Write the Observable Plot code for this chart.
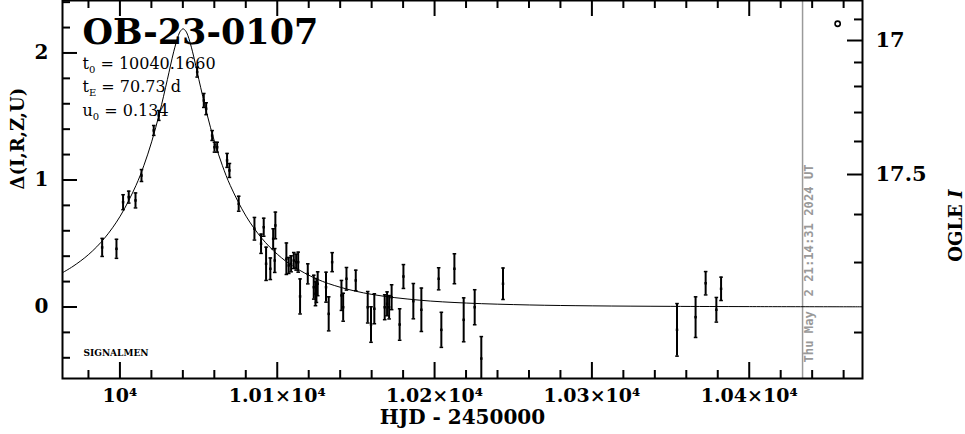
<!DOCTYPE html>
<html>
<head>
<meta charset="utf-8">
<script src="https://cdn.jsdelivr.net/npm/d3@7"></script>
<script src="https://cdn.jsdelivr.net/npm/@observablehq/plot@0.6"></script>
<style>
  body { margin: 0; background: #fff; }
  svg { display: block; }
</style>
</head>
<body>
<div id="chart"></div>
<script>
const obsT = [9988.7, 9997.8, 10002.0, 10005.6, 10009.9, 10013.7, 10021.5, 10024.7, 10049.1, 10053.3,
  10054.8, 10058.6, 10060.1, 10061.8, 10068.1, 10069.6, 10075.5, 10085.5, 10091.4, 10089.7,
  10092.9, 10095.6, 10097.4, 10098.8, 10098.4, 10105.8, 10107.3, 10108.8, 10110.5, 10112.0,
  10113.3, 10114.5, 10119.4, 10123.2, 10124.3, 10124.9, 10125.7, 10131.0, 10132.7, 10134.9,
  10140.8, 10141.9, 10144.0, 10149.9, 10157.5, 10159.6, 10161.7, 10168.3, 10169.8, 10171.1,
  10172.7, 10177.8, 10180.2, 10186.5, 10191.6, 10202.6, 10204.3, 10212.6, 10218.5, 10225.5,
  10229.7, 10243.5, 10354.1, 10365.9, 10372.3, 10379.1, 10382.1];
const obsDelta = [0.469, 0.458, 0.825, 0.865, 0.839, 1.035, 1.390, 1.508, 1.849, 1.626,
  1.561, 1.350, 1.258, 1.258, 1.154, 1.075, 0.813, 0.616, 0.628, 0.498,
  0.340, 0.301, 0.537, 0.642, 0.366, 0.380, 0.327, 0.340, 0.366, 0.353,
  0.353, 0.083, 0.261, 0.156, 0.104, 0.130, 0.183, 0.156, -0.054, 0.353,
  0.091, -0.002, 0.222, 0.209, -0.002, -0.138, -0.014, -0.002, 0.025, -0.002,
  0.077, -0.138, 0.240, 0.046, -0.022, 0.222, -0.180, 0.301, -0.101, -0.002,
  -0.406, 0.183, -0.180, -0.080, 0.187, -0.022, 0.143];
const obsErr = [0.071, 0.075, 0.059, 0.047, 0.059, 0.047, 0.039, 0.039, 0.039, 0.055,
  0.047, 0.039, 0.039, 0.039, 0.055, 0.055, 0.059, 0.089, 0.071, 0.076,
  0.131, 0.085, 0.079, 0.105, 0.094, 0.124, 0.063, 0.063, 0.063, 0.063,
  0.079, 0.138, 0.079, 0.094, 0.094, 0.094, 0.094, 0.118, 0.134, 0.075,
  0.118, 0.110, 0.089, 0.081, 0.124, 0.140, 0.118, 0.098, 0.094, 0.092,
  0.098, 0.124, 0.094, 0.139, 0.171, 0.087, 0.138, 0.118, 0.173, 0.138,
  0.173, 0.124, 0.207, 0.160, 0.092, 0.097, 0.092];

// ---- Model curve samples (read along the drawn fit) ----
const modelT = [9963.5, 9970.17, 9980.17, 9990.17, 10000.17, 10010.17, 10015.17, 10020.17, 10025.17, 10030.17,
  10034.17, 10037.17, 10038.5, 10040.17, 10041.8, 10043.17, 10046.17, 10050.17, 10055.17, 10060.17,
  10065.17, 10070.17, 10080.17, 10090.17, 10100.17, 10110.17, 10125.17, 10140.17, 10160.17, 10190.17,
  10220.17, 10260.17, 10300.17, 10350.17, 10400.17, 10472];
const modelDelta = [0.270, 0.320, 0.414, 0.541, 0.715, 0.956, 1.112, 1.300, 1.527, 1.791,
  2.009, 2.138, 2.173, 2.190, 2.173, 2.138, 2.009, 1.791, 1.527, 1.300,
  1.112, 0.956, 0.715, 0.541, 0.414, 0.320, 0.220, 0.155, 0.099, 0.054,
  0.031, 0.016, 0.009, 0.005, 0.003, 0.0015];

// ---- Axis ticks & labels ----
const xMajorTicks = [10000, 10100, 10200, 10300, 10400];
const xTickLabels = ["10⁴", "1.01×10⁴", "1.02×10⁴", "1.03×10⁴", "1.04×10⁴"];
const xMinorTicks = d3.range(9980, 10461, 20).filter(v => v % 100 !== 0);
const yMajorTicks = [0, 1, 2];
const yMinorTicks = d3.range(-2, 13).map(i => i / 5).filter(v => !Number.isInteger(v));
const ogleMajorPos = [2.098, 1.043];
const ogleMajorLabels = ["17", "17.5"];
const ogleMinorPos = [2.264, 1.925, 1.736, 1.531, 1.303, 0.728, 0.350, -0.201];

// ---- Texts ----
const titleText = "OB-23-0107";
const params = [
  {sym: "t", sub: "0", val: "10040.1660"},
  {sym: "t", sub: "E", val: "70.73 d"},
  {sym: "u", sub: "0", val: "0.134"}
];
const xLabel = "HJD - 2450000";
const yLabel = "Δ(I,R,Z,U)";
const y2Label = "OGLE I";
const creditText = "SIGNALMEN";
const nowT = 10433.9;
const nowLabel = "Thu May  2 21:14:31 2024 UT";
const markerPt = [{t: 10456.2, d: 2.23}];

const obs = obsT.map((t, i) => ({t, d: obsDelta[i], e: obsErr[i]}));
const model = modelT.map((t, i) => ({t, d: modelDelta[i]}));
const paramText = p => p.sym + p.sub + " = " + p.val;

const capSymbol = {
  draw(ctx, size) {
    const r = Math.sqrt(size / Math.PI);
    ctx.moveTo(-r, 0); ctx.lineTo(r, 0);
  }
};

const FW = 800, FH = 378; // frame size in px
const serif = "DejaVu Serif";

const svg = Plot.plot({
  width: 965, height: 434,
  marginLeft: 62, marginRight: 103, marginTop: 0, marginBottom: 56,
  x: {domain: [9963.5, 10472], axis: null},
  y: {domain: [-0.563, 2.413], axis: null},
  style: {background: "white", fontFamily: serif, overflow: "visible", color: "black"},
  marks: [
    // ticks (inward)
    Plot.tickX(xMajorTicks, {x: d => d, insetTop: FH - 16, stroke: "black", strokeWidth: 2}),
    Plot.tickX(xMinorTicks, {x: d => d, insetTop: FH - 8, stroke: "black", strokeWidth: 2}),
    Plot.tickX(xMajorTicks, {x: d => d, insetBottom: FH - 16, stroke: "black", strokeWidth: 2}),
    Plot.tickX(xMinorTicks, {x: d => d, insetBottom: FH - 8, stroke: "black", strokeWidth: 2}),
    Plot.tickY(yMajorTicks, {y: d => d, insetRight: FW - 15, stroke: "black", strokeWidth: 2}),
    Plot.tickY(yMinorTicks, {y: d => d, insetRight: FW - 8, stroke: "black", strokeWidth: 2}),
    Plot.tickY(ogleMajorPos, {y: d => d, insetLeft: FW - 15, stroke: "black", strokeWidth: 2}),
    Plot.tickY(ogleMinorPos, {y: d => d, insetLeft: FW - 8, stroke: "black", strokeWidth: 2}),
    // current-date line
    Plot.ruleX([nowT], {stroke: "#9a9a9a", strokeWidth: 1.5}),
    Plot.text([{t: nowT, s: nowLabel}], {x: "t", text: "s", frameAnchor: "bottom", rotate: -90,
      textAnchor: "start", lineAnchor: "middle", dx: 7, dy: -16, fill: "#999",
      fontFamily: "DejaVu Sans Mono", fontWeight: "bold", fontSize: 12.2}),
    // model
    Plot.line(model, {x: "t", y: "d", curve: "catmull-rom", stroke: "black", strokeWidth: 1, clip: true}),
    // data
    Plot.ruleX(obs, {x: "t", y1: d => d.d - d.e, y2: d => d.d + d.e, stroke: "black", strokeWidth: 2, clip: true}),
    Plot.dot(obs, {x: "t", y: d => d.d - d.e, symbol: capSymbol, r: 1.8, fill: "none", stroke: "black", strokeWidth: 1.5, clip: true}),
    Plot.dot(obs, {x: "t", y: d => d.d + d.e, symbol: capSymbol, r: 1.8, fill: "none", stroke: "black", strokeWidth: 1.5, clip: true}),
    Plot.dot(obs, {x: "t", y: "d", symbol: "square", r: 1.4, fill: "black", stroke: "none"}),
    Plot.dot(markerPt, {x: "t", y: "d", r: 2.6, fill: "none", stroke: "black", strokeWidth: 1.6}),
    Plot.frame({stroke: "black", strokeWidth: 2}),
    // annotations
    Plot.text([titleText], {frameAnchor: "top-left", dx: 20, dy: 43, lineAnchor: "bottom", textAnchor: "start",
      fontSize: 35, fontWeight: "bold", fill: "black"}),
    ...params.map((p, i) => Plot.text([p], {text: paramText, frameAnchor: "top-left",
      dx: 20, dy: 68 + i * 23.5, lineAnchor: "bottom", textAnchor: "start", fontSize: 16, fill: "black"})),
    Plot.text([creditText], {frameAnchor: "bottom-left", dx: 21, dy: -23, textAnchor: "start",
      fontSize: 9, fontWeight: "bold", fill: "black"}),
    // axis labels
    Plot.text(yMajorTicks, {y: d => d, text: d => String(d), frameAnchor: "left", dx: -14, textAnchor: "end",
      fontSize: 20, fontWeight: "bold", fill: "black"}),
    Plot.text(ogleMajorPos.map((p, i) => ({p, s: ogleMajorLabels[i]})), {y: "p", text: "s", frameAnchor: "right",
      dx: 13, textAnchor: "start", fontSize: 21, fontWeight: "bold", fill: "black"}),
    Plot.text(xMajorTicks.map((v, i) => ({v, s: xTickLabels[i]})), {x: "v", text: "s", frameAnchor: "bottom",
      dy: 23, fontSize: 19, fontWeight: "bold", fill: "black"}),
    Plot.text([xLabel], {frameAnchor: "bottom", dy: 45, fontSize: 20, fontWeight: "bold", fill: "black"}),
    Plot.text([yLabel], {frameAnchor: "left", dx: -44, rotate: -90, fontSize: 18, fontWeight: "bold", fill: "black"}),
    Plot.text([y2Label], {frameAnchor: "right", dx: 94, rotate: -90, fontSize: 18, fontWeight: "bold", fill: "black"})
  ]
});

// subscripts for fit parameters and italic I, by matching the text content
const allText = d3.select(svg).selectAll("text");
params.forEach(p => {
  const s = paramText(p);
  allText.filter(function () { return this.textContent === s; }).each(function () {
    const el = d3.select(this);
    el.text(null);
    el.append("tspan").text(p.sym);
    el.append("tspan").attr("font-size", "10").attr("dy", "4").text(p.sub);
    el.append("tspan").attr("dy", "-4").text(" = " + p.val);
  });
});
allText.filter(function () { return this.textContent === y2Label; }).each(function () {
  const el = d3.select(this);
  el.text(null);
  el.append("tspan").text("OGLE ");
  el.append("tspan").attr("font-style", "italic").text("I");
});

document.getElementById("chart").appendChild(svg);
</script>
</body>
</html>
